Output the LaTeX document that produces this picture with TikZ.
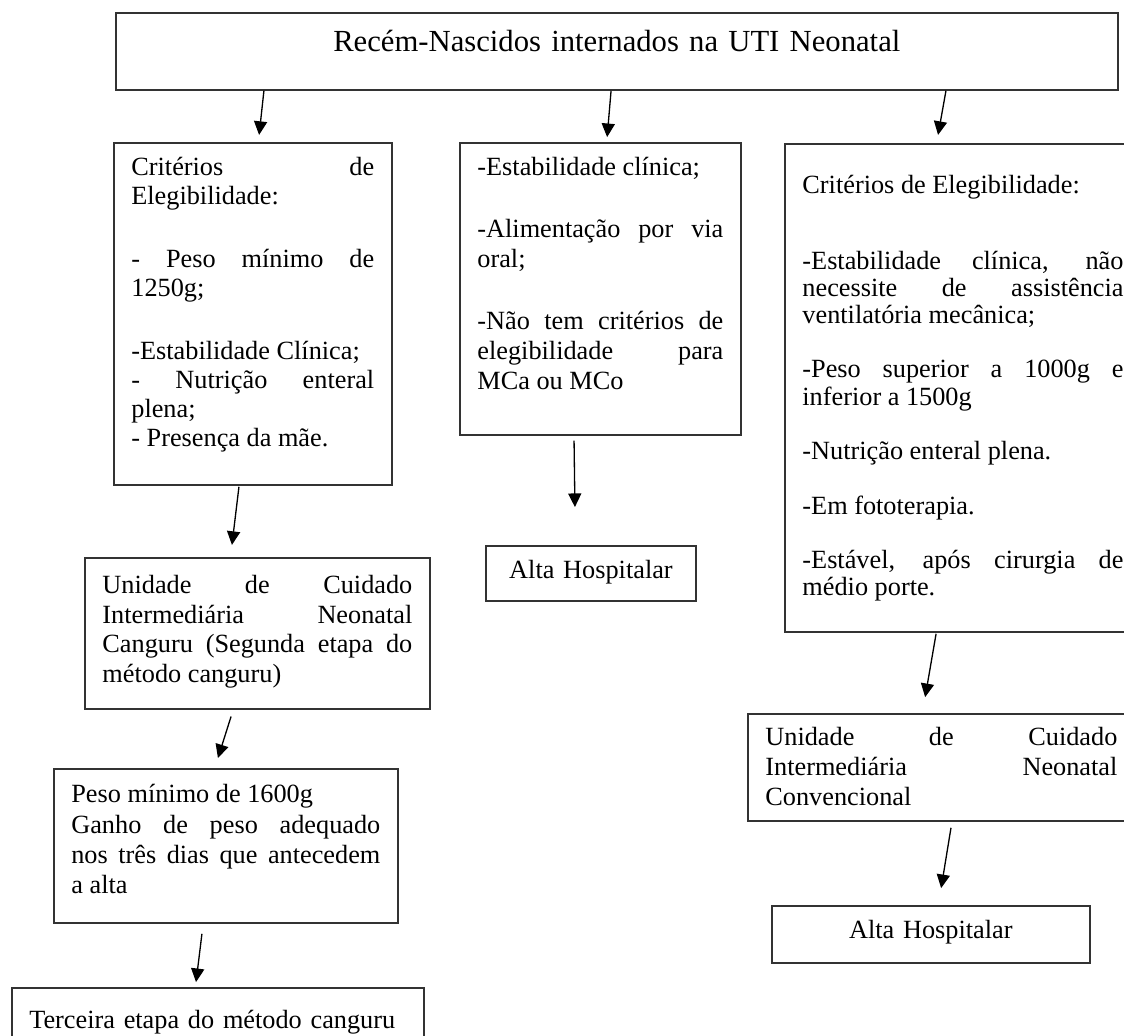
\documentclass[tikz,border=0pt]{standalone}
\usepackage{fontspec}
\setmainfont{Liberation Serif}
\usepackage{tikz}
\usepackage{xcolor}
\usetikzlibrary{arrows.meta,calc}
\definecolor{Borda}{HTML}{333333}
\tolerance=10000
\hbadness=10000
\hyphenpenalty=10000

\tikzset{
  caixa/.style={draw=Borda, line width=0.75pt, anchor=north west, inner ysep=0pt, inner xsep=8pt,
    align=justify, font=\fontsize{12}{13.5}\selectfont},
  seta/.style={line width=0.6pt, -{Triangle[length=6.2pt,width=6pt]}}
}

\begin{document}
\begin{tikzpicture}[x=1pt,y=1pt]
    \useasboundingbox (0,0) rectangle (513.2,-472.6);
    \clip (0,0) rectangle (513.2,-472.6);
    \node[caixa, align=center, inner xsep=0pt, text width=457.5pt, text height=17.6pt, text depth=17.6pt,
      font=\fontsize{14}{16}\selectfont] (topo) at (52.5,-5.5) {Recém-Nascidos internados na UTI Neonatal};
    \node[caixa, text width=110.9pt, text height=15.1pt, text depth=141.1pt, font=\fontsize{12}{13.2}\selectfont]
      (crit1) at (51.6,-64.8) {Critérios de\linebreak Elegibilidade:\\[15.5pt]- Peso mínimo de\linebreak 1250g;\\[15.5pt]-Estabilidade Clínica;\\- Nutrição enteral\linebreak plena;\\- Presença da mãe.};
    \node[caixa, text width=112.3pt, text height=15.1pt, text depth=118.3pt, font=\fontsize{12}{13.7}\selectfont]
      (estab) at (209.6,-64.8) {-Estabilidade clínica;\\[14.6pt]-Alimentação por via\linebreak oral;\\[14.6pt]-Não tem critérios de\linebreak elegibilidade para\linebreak MCa ou MCo};
    \node[caixa, text width=146.6pt, text height=22.8pt, text depth=200pt, font=\fontsize{12}{12.4}\selectfont]
      (crit2) at (358.0,-65.3) {Critérios de Elegibilidade:\\[22pt]-Estabilidade clínica, não\linebreak necessite de assistência\linebreak ventilatória mecânica;\\[12.5pt]-Peso superior a 1000g e\linebreak inferior a 1500g\\[12.5pt]-Nutrição enteral plena.\\[12.5pt]-Em fototerapia.\\[12.5pt]-Estável, após cirurgia de\linebreak médio porte.};
    \node[caixa, text width=141.5pt, text height=16.4pt, text depth=52.5pt]
      (canguru) at (38.4,-254.3) {Unidade de Cuidado\linebreak Intermediária Neonatal\linebreak Canguru (Segunda etapa do\linebreak método canguru)};
    \node[caixa, text width=141.1pt, text height=15.5pt, text depth=54.8pt, font=\fontsize{12}{13.8}\selectfont]
      (peso) at (24.2,-350.7) {Peso mínimo de 1600g\\Ganho de peso adequado\linebreak nos três dias que antecedem\linebreak a alta};
    \node[caixa, align=left, text width=172.1pt, text height=18.7pt, text depth=10pt]
      (terceira) at (5.0,-450.7) {Terceira etapa do método canguru};
    \node[caixa, align=center, text width=79.9pt, text height=15.1pt, text depth=10pt]
      (alta1) at (221.5,-248.8) {Alta Hospitalar};
    \node[caixa, text width=160.7pt, text height=14.6pt, text depth=34.2pt]
      (conv) at (341.1,-325.6) {Unidade de Cuidado\linebreak Intermediária Neonatal\linebreak Convencional};
    \node[caixa, align=center, text width=129.2pt, text height=15.1pt, text depth=11pt]
      (alta2) at (352.0,-413.2) {Alta Hospitalar};
    \draw[seta] ($(topo.south west)+(68.0,0)$) -- ($(crit1.north west)+(66.7,3.2)$);
    \draw[seta] ($(topo.south west)+(226.5,0)$) -- ($(estab.north west)+(67.6,2.2)$);
    \draw[seta] ($(topo.south west)+(379.4,0)$) -- ($(crit2.north west)+(70.3,3.7)$);
    \draw[seta] ($(crit1.south west)+(57.5,-0.5)$) -- ($(canguru.north west)+(67.5,5.5)$);
    \draw[seta] ($(canguru.south west)+(67.1,-3.2)$) -- ($(peso.north west)+(75.3,4.6)$);
    \draw[seta] ($(peso.south west)+(68.0,-4.6)$) -- ($(terceira.north west)+(84.5,2.3)$);
    \draw[seta] ($(estab.south west)+(52.5,-2.2)$) -- ($(alta1.north west)+(41.0,17.3)$);
    \draw[seta] ($(crit2.south west)+(69.4,-0.5)$) -- ($(conv.north west)+(81.3,7.3)$);
    \draw[seta] ($(conv.south west)+(93.1,-2.8)$) -- ($(alta2.north west)+(77.7,7.7)$);
\end{tikzpicture}
\end{document}
